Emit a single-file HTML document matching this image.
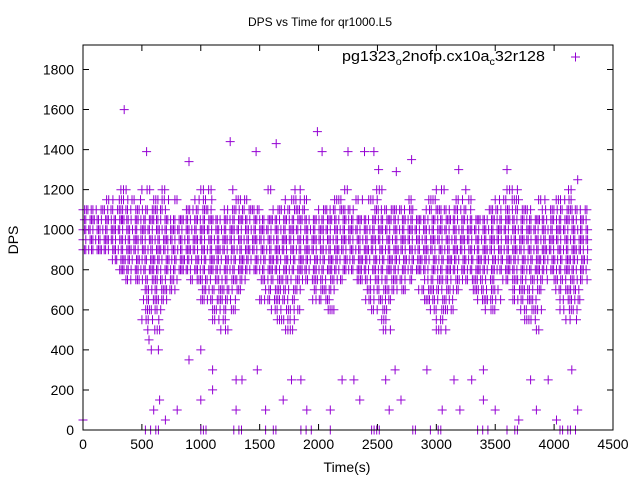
<!DOCTYPE html>
<html><head><meta charset="utf-8"><style>
html,body{margin:0;padding:0;background:#fff}
svg{display:block;font-family:"Liberation Sans",sans-serif}
</style></head><body>
<svg id="chart" width="640" height="480">
<text x="320" y="26" text-anchor="middle" font-size="12">DPS vs Time for qr1000.L5</text>
<text x="0" y="0" transform="translate(18,240) rotate(-90)" text-anchor="middle" font-size="14">DPS</text>
<text x="347" y="472" text-anchor="middle" font-size="14">Time(s)</text>
<g>
<text x="342" y="61" font-size="15" textLength="203" lengthAdjust="spacingAndGlyphs">pg1323<tspan font-size="10" dy="4">o</tspan><tspan dy="-4">2nofp.cx10a</tspan><tspan font-size="10" dy="4">c</tspan><tspan dy="-4">32r128</tspan></text>
<path d="M571 57h9M575.5 52.5v9" stroke="#9400d3" stroke-width="1"/>
</g>
<g id="axes"></g>
<g id="marks"></g>
<rect x="83" y="45" width="530" height="385" fill="none" stroke="#000" stroke-width="1"/>
</svg>
<script>
const xTicks=[0,500,1000,1500,2000,2500,3000,3500,4000,4500];
const yTicks=[0,200,400,600,800,1000,1200,1400,1600,1800];
const bandLevels=[1000,950,900,1050,1100,1150,1200,850,800,750,700,650,600,550,500,0];
const bandSegments=[
[[0,4290]],
[[0,4290]],
[[0,4290]],
[[0,4290]],
[[0,700],[850,1100],[1200,1500],[1600,1900],[2000,2300],[2450,2800],[2900,3300],[3450,3800],[3900,4290]],
[[200,500],[600,800],[950,1100],[1300,1400],[1700,1900],[2100,2200],[2300,2500],[2750,2800],[2900,3000],[3150,3300],[3500,3700],[3850,3950],[4000,4150]],
[[300,400],[500,600],[650,700],[1000,1100],[1250,1300],[1550,1600],[1800,1850],[2200,2250],[2450,2550],[3000,3100],[3250,3300],[3600,3700],[4100,4200]],
[[250,4290]],
[[300,4290]],
[[350,800],[900,1400],[1500,2200],[2300,2800],[2900,3500],[3550,3950],[4000,4290]],
[[500,800],[1000,1350],[1550,1850],[1950,2150],[2400,2750],[2850,3200],[3300,3550],[3650,3900],[4000,4250]],
[[500,750],[1000,1300],[1500,1800],[1950,2100],[2400,2650],[2900,3150],[3350,3550],[3650,3850],[4050,4250]],
[[500,700],[1100,1300],[1600,1850],[2050,2150],[2450,2600],[2950,3150],[3400,3500],[3700,3900],[4050,4200]],
[[500,650],[1100,1250],[1650,1800],[2500,2600],[3000,3100],[3750,3850],[4100,4200]],
[[550,650],[1150,1250],[1700,1800],[2550,2650],[3000,3100],[3850,3900]],
[[530,700],[1000,1050],[1280,1380],[1550,1650],[1850,1950],[2100,2150],[2450,2550],[2800,2850],[2950,3050],[3350,3450],[3600,3700],[4050,4200]]
];
const bandStep=[12,12,12,12,14,18,22,12,12,14,14,14,16,18,20,22];
const outlierTimes=[350,540,900,1250,1470,1640,1990,2030,2250,2390,2470,2790,2660,2510,3190,3600,4200,560,580,640,900,1000,1100,1300,1350,1480,1770,1850,2200,2300,2570,2650,2920,3150,3300,3400,3800,3950,4150,600,700,650,800,1000,1100,1300,1550,1700,1900,2100,2350,2600,2700,3050,3200,3400,3500,3700,3850,4020,4200,0,330];
const outlierValues=[1600,1390,1340,1440,1390,1430,1490,1390,1390,1390,1390,1350,1290,1300,1300,1300,1250,450,400,400,350,400,300,250,250,300,250,250,250,250,250,300,300,250,250,300,250,250,300,100,50,150,100,150,200,100,100,150,100,100,150,100,150,100,100,150,100,50,100,50,100,50,1050];
const keepPattern=[1,1,1,0,1,1,0,1,0,0,1,1,1,0,1,0,1,1,0,0,1];

const X=t=>83+t*(530/4500);
const Y=v=>430-v*(360.5/1800);
const NS='http://www.w3.org/2000/svg';
const axes=document.getElementById('axes');
const marks=document.getElementById('marks');
xTicks.forEach(t=>{
  const p=document.createElementNS(NS,'path');
  p.setAttribute('d',`M${X(t)} 430v-6M${X(t)} 45v6`);
  p.setAttribute('stroke','#000');
  
  
  axes.appendChild(p);
  const tx=document.createElementNS(NS,'text');
  tx.setAttribute('x',X(t));tx.setAttribute('y',449);
  tx.setAttribute('text-anchor','middle');tx.setAttribute('font-size','14');
  
  
  tx.textContent=t;axes.appendChild(tx);
});
yTicks.forEach(v=>{
  const p=document.createElementNS(NS,'path');
  p.setAttribute('d',`M83 ${Y(v)}h6M613 ${Y(v)}h-6`);
  p.setAttribute('stroke','#000');
  
  
  axes.appendChild(p);
  const tx=document.createElementNS(NS,'text');
  tx.setAttribute('x',74);tx.setAttribute('y',Y(v)+5);
  tx.setAttribute('text-anchor','end');tx.setAttribute('font-size','14');
  
  
  tx.textContent=v;axes.appendChild(tx);
});
let d='';
function plus(t,v){const x=X(t),y=Y(v);d+=`M${(x-4.5).toFixed(1)} ${y.toFixed(1)}h9M${x.toFixed(1)} ${(y-4.5).toFixed(1)}v9`;}
bandLevels.forEach((lv,i)=>{
  let k=i*5;
  bandSegments[i].forEach(([a,b])=>{for(let t=a;t<=b;t+=bandStep[i]){if(keepPattern[(k++)%keepPattern.length])plus(t,lv);}});
});
outlierTimes.forEach((t,i)=>plus(t,outlierValues[i]));
const path=document.createElementNS(NS,'path');
path.setAttribute('d',d);
path.setAttribute('stroke','#9400d3');
path.setAttribute('stroke-width','1');
path.setAttribute('fill','none');


marks.appendChild(path);
</script>
</body></html>
